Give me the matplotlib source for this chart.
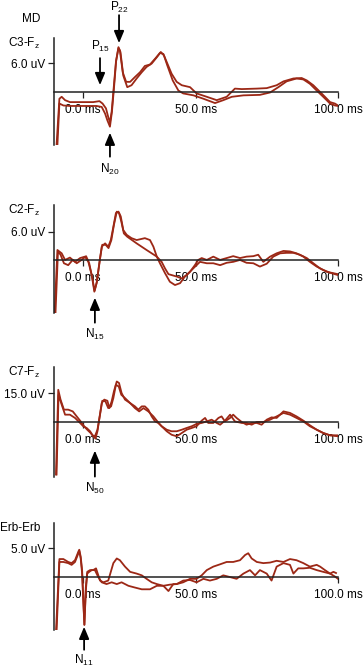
import numpy as np
import matplotlib.pyplot as plt
from matplotlib.transforms import ScaledTranslation

plt.rcParams['font.family'] = ['Liberation Sans', 'DejaVu Sans']
plt.rcParams['mathtext.fontset'] = 'custom'
plt.rcParams['mathtext.rm'] = 'Liberation Sans'
plt.rcParams['mathtext.it'] = 'Liberation Sans:italic'

# ---- data: time (ms) and amplitude (uV), two averaged runs per channel ----
c3_t1 = [0.9, 1.9, 2.7, 3.9, 5.6, 10.3, 13.8, 16.0, 17.1, 18.3, 19.1, 19.7, 20.3, 21.1, 21.8, 22.7, 23.2,
         24.2, 25.4, 26.8, 28.5, 30.3, 32.0, 33.8, 35.6, 37.3, 38.5, 39.7, 41.4, 43.2, 45.0, 47.9, 50.2,
         53.8, 57.3, 60.8, 63.7, 66.1, 71.4, 74.9, 78.4, 80.8, 84.3, 87.2, 89.0, 91.3, 93.7, 95.4, 97.2,
         98.9, 100.0]
c3_v1 = [-11.0, -1.4, -1.0, -1.7, -2.1, -2.1, -2.1, -1.9, -2.4, -3.4, -5.2, -6.3, -4.1, 1.4, 6.2, 9.1, 8.6,
         4.1, 2.1, 2.1, 3.1, 4.1, 5.4, 5.7, 6.9, 8.1, 7.9, 6.2, 3.8, 2.1, 1.4, 1.0, -0.3,
         -1.0, -1.7, -1.0, 0.7, 0.6, 0.7, 0.8, 1.4, 2.2, 2.8, 2.9, 2.4, 1.4, 0.0, -1.0, -2.1,
         -2.4, -2.8]
c3_t2 = [1.2, 1.9, 3.3, 5.6, 10.3, 15.0, 16.8, 18.0, 18.8, 19.7, 20.4, 21.2, 21.9, 22.7, 23.4, 24.4, 25.8,
         27.3, 29.1, 30.9, 32.6, 34.4, 36.2, 37.6, 38.7, 39.9, 41.8, 43.8, 45.5, 49.1, 52.6, 56.7, 59.6,
         62.6, 66.7, 72.5, 76.1, 79.0, 81.9, 85.4, 87.8, 90.1, 92.5, 94.8, 97.2, 98.9, 100.0]
c3_v2 = [-11.0, -2.4, -2.8, -2.9, -2.9, -2.9, -3.1, -4.5, -5.9, -7.2, -4.1, 1.4, 6.6, 9.3, 8.3, 3.4, 1.0,
         1.4, 2.8, 4.1, 5.2, 5.9, 7.2, 8.3, 7.6, 5.5, 2.4, 0.3, -0.3, -0.7, -1.4, -2.3, -1.7,
         -1.0, -0.7, -0.6, -0.1, 1.0, 2.2, 2.8, 2.6, 1.7, 0.3, -1.0, -2.4, -2.8, -2.9]

c2_t1 = [0.2, 1.2, 2.7, 3.9, 5.6, 7.4, 9.2, 10.9, 12.1, 13.3, 14.2, 15.0, 16.0, 16.8, 18.0, 19.1, 20.0,
         20.9, 21.8, 22.7, 23.5, 24.4, 25.6, 27.3, 29.1, 32.0, 33.8, 35.0, 36.2, 37.3, 39.1, 40.8, 42.6,
         44.4, 46.1, 47.9, 49.6, 50.8, 52.0, 53.8, 56.1, 58.5, 60.8, 63.1, 65.5, 67.8, 70.2, 71.9, 73.7,
         76.1, 78.4, 80.8, 83.1, 85.4, 87.8, 90.1, 92.5, 94.8, 97.2, 100.0]
c2_v1 = [-11.6, 2.1, 1.4, 0.0, 0.5, -0.4, 0.4, 0.7, -0.4, -3.2, -6.7, -4.9, -0.7, 2.8, 3.5, 2.8, 4.2,
         7.0, 9.9, 10.2, 9.2, 6.3, 5.3, 4.6, 4.2, 4.6, 4.2, 2.8, 0.7, -0.7, -2.8, -4.6, -5.3,
         -4.9, -3.5, -2.5, -1.1, 0.0, 0.4, 0.0, 0.7, 0.0, 0.4, 0.8, 0.4, 0.7, 0.8, 1.1, -0.4,
         0.7, 1.4, 1.9, 1.8, 1.4, 0.7, -0.4, -1.4, -2.1, -2.7, -3.2]
c2_t2 = [0.5, 1.4, 2.3, 3.5, 5.0, 6.6, 8.0, 9.7, 11.3, 12.4, 13.5, 14.3, 15.1, 16.1, 17.0, 18.2, 19.2,
         20.2, 21.1, 22.1, 22.9, 23.7, 24.6, 25.8, 29.1, 32.6, 34.4, 36.2, 37.9, 39.1, 40.3, 43.2, 45.0,
         46.7, 48.5, 50.2, 51.4, 53.8, 56.1, 58.5, 60.8, 63.1, 65.5, 67.8, 70.2, 72.5, 74.9, 77.2, 79.6,
         81.9, 84.3, 86.6, 89.0, 91.3, 93.7, 96.0, 98.4, 100.0]
c2_v2 = [-11.6, 1.8, 1.1, -0.7, -1.1, 0.0, -0.7, 0.0, 0.8, -0.7, -3.9, -6.5, -4.6, 0.0, 3.2, 3.2, 2.5,
         4.2, 7.4, 10.2, 9.9, 8.1, 5.6, 4.9, 3.5, 2.1, 1.4, 0.7, -0.4, -1.8, -3.0, -3.5, -3.9,
         -3.2, -2.1, -1.1, -0.4, -0.7, -0.7, -1.1, -0.6, -0.4, 0.0, -0.6, -0.7, -1.4, -0.8, 0.7, 1.4,
         1.5, 1.5, 1.1, 0.4, -0.7, -1.8, -2.5, -2.8, -3.0]

c7_t1 = [0.7, 1.5, 2.3, 3.5, 5.0, 6.6, 8.0, 9.4, 10.6, 11.7, 12.9, 13.8, 14.6, 15.3, 16.0, 16.8, 17.7,
         18.8, 19.5, 20.3, 21.1, 22.1, 22.9, 23.8, 25.0, 26.8, 28.5, 29.7, 30.9, 32.0, 33.2, 34.4, 35.6,
         36.7, 37.9, 39.7, 41.4, 43.2, 45.0, 46.7, 48.5, 50.2, 52.0, 53.2, 54.3, 56.1, 57.9, 59.0, 60.2,
         62.0, 63.1, 64.3, 66.1, 67.8, 69.6, 71.4, 73.1, 74.9, 76.6, 78.4, 80.8, 83.1, 85.4, 87.8, 90.1,
         92.5, 94.8, 97.2, 100.0]
c7_v1 = [-27.2, 16.7, 11.6, 6.4, 6.4, 5.5, 2.9, 0.3, -2.2, -4.0, -5.7, -7.4, -8.6, -4.8, 2.1, 9.8, 11.6,
         11.0, 7.2, 10.7, 15.9, 21.0, 20.2, 15.0, 11.6, 9.8, 8.1, 6.4, 8.1, 8.1, 6.4, 2.9, 0.3,
         -0.5, -2.2, -4.8, -6.6, -7.4, -5.7, -4.0, -3.1, -2.2, 0.7, 2.1, -0.5, -0.5, 2.1, 2.9, 0.3,
         2.1, 3.8, 2.1, 0.0, -1.4, -0.5, -0.5, -1.4, 1.2, 2.4, 2.1, 5.5, 4.7, 2.9, 0.7, -1.7,
         -4.0, -5.7, -6.9, -6.9]
c7_t2 = [0.9, 1.6, 2.7, 3.9, 5.6, 7.4, 9.2, 10.3, 11.5, 12.7, 13.6, 14.4, 15.3, 16.2, 17.0, 18.1, 19.1,
         20.1, 20.9, 21.8, 22.8, 23.7, 25.0, 26.8, 28.5, 30.0, 31.5, 33.2, 35.0, 36.4, 37.9, 39.7, 41.4,
         43.2, 45.0, 46.7, 48.5, 50.2, 52.0, 53.8, 55.5, 57.3, 58.5, 60.2, 62.0, 63.7, 66.1, 67.8, 69.6,
         71.4, 73.7, 76.1, 78.4, 80.8, 83.1, 85.4, 87.8, 90.1, 92.5, 94.8, 97.2, 100.0]
c7_v2 = [-27.2, 14.1, 9.0, 3.8, 3.8, 2.1, -0.5, -2.2, -3.1, -4.8, -6.9, -7.4, -4.0, 3.8, 11.0, 10.7, 7.2,
         8.1, 12.4, 19.3, 18.4, 14.1, 12.4, 9.8, 7.2, 5.5, 7.2, 5.5, 2.9, 0.3, -2.2, -4.0, -4.8,
         -4.8, -4.0, -3.1, -2.2, -1.0, -0.5, 0.3, 1.2, -0.5, -1.4, 0.7, 3.8, 0.3, -0.5, -0.5, -1.4,
         0.0, 0.0, 1.2, 2.9, 4.7, 3.8, 2.1, 0.3, -2.2, -4.0, -5.7, -6.9, -7.4]

erb_t1 = [0.7, 1.9, 3.3, 5.0, 6.2, 7.4, 8.6, 8.9, 9.4, 9.9, 10.3, 10.7, 11.2, 11.7, 12.7, 13.8, 14.8,
          15.6, 16.2, 17.4, 19.1, 20.9, 22.1, 23.2, 25.0, 26.8, 29.1, 30.9, 32.6, 34.4, 36.2, 38.5, 40.8,
          43.2, 45.5, 47.9, 50.2, 52.0, 53.8, 56.1, 58.5, 60.8, 63.1, 65.5, 67.3, 68.4, 69.6, 71.4, 73.7,
          76.1, 78.4, 80.8, 83.1, 85.4, 87.8, 90.1, 92.5, 93.7, 95.4, 97.2, 98.4, 99.3]
erb_v1 = [-9.4, 3.1, 3.1, 2.6, 2.4, 2.9, 4.4, 4.7, 3.5, 1.2, -3.5, -8.2, -1.8, 0.9, 1.2, 1.2, 1.5,
          0.3, -0.6, -0.9, -0.6, 2.4, 3.2, 2.9, 1.8, 0.9, 0.6, 0.3, -0.3, -0.9, -1.2, -1.5, -1.3,
          -1.2, -0.9, -0.3, -0.3, 0.3, 1.2, 1.8, 2.2, 2.6, 2.6, 2.9, 3.8, 4.1, 3.2, 2.6, 2.4,
          2.5, 2.8, 2.6, 3.1, 2.9, 2.4, 1.8, 2.1, 1.8, 1.2, 0.6, 0.9, 0.7]
erb_t2 = [0.9, 1.9, 3.3, 5.0, 6.2, 7.4, 8.6, 8.9, 9.4, 9.9, 10.3, 10.7, 11.2, 11.7, 12.4, 13.3, 14.4,
          15.6, 16.8, 18.5, 20.3, 22.1, 23.8, 26.2, 28.5, 30.9, 33.8, 36.2, 38.5, 40.3, 42.0, 43.2, 45.5,
          47.9, 50.2, 52.6, 54.9, 57.3, 59.6, 62.0, 64.3, 66.7, 69.0, 70.8, 72.5, 74.9, 76.6, 78.4, 80.8,
          83.1, 84.3, 86.0, 87.8, 90.1, 92.5, 94.8, 97.2, 98.9, 100.0]
erb_v2 = [-9.4, 2.6, 2.6, 2.4, 2.1, 2.6, 4.1, 4.5, 3.2, 0.6, -4.1, -8.2, -2.4, 0.6, 0.9, 1.2, 1.2,
          0.0, -0.9, -1.2, -0.9, -1.2, -0.9, -1.5, -1.8, -2.1, -2.1, -1.5, -1.5, -2.4, -1.2, -1.2, -0.6,
          -0.5, -0.9, -0.3, -0.6, -0.3, 0.3, 0.0, -0.3, 0.6, 1.2, 0.3, 1.2, 0.6, -0.6, 1.8, 2.4,
          2.1, 0.6, 1.5, 1.5, 1.6, 1.2, 0.9, 0.6, 0.1, -0.3]

channels = ['C3-F$_\\mathrm{z}$', 'C2-F$_\\mathrm{z}$', 'C7-F$_\\mathrm{z}$', 'Erb-Erb']
traces = [[(c3_t1, c3_v1), (c3_t2, c3_v2)],
          [(c2_t1, c2_v1), (c2_t2, c2_v2)],
          [(c7_t1, c7_v1), (c7_t2, c7_v2)],
          [(erb_t1, erb_v1), (erb_t2, erb_v2)]]
scale_uv = [6.0, 6.0, 15.0, 5.0]
xtick_pos = [10.2, 50.0, 100.0]
xtick_labels = ['0.0 ms', '50.0 ms', '100.0 ms']

# peaks: (panel, label, latency ms, polarity)
peaks = [(0, 'P$_{22}$', 22.9, 1), (0, 'P$_{15}$', 16.2, 1), (0, 'N$_{20}$', 19.7, -1),
         (1, 'N$_{15}$', 14.4, -1), (2, 'N$_{50}$', 14.4, -1), (3, 'N$_{11}$', 10.6, -1)]
# arrow styling in pixels: gap to trace, arrow length, label gap
arrow_px = [(4, 28, 0), (16, 27, 4), (6, 24, 5), (6, 25, 4), (12, 26, 4), (2, 23, 3)]

W, H = 363, 669
fig = plt.figure(figsize=(W / 100, H / 100), dpi=100)

tops = [38, 205, 367, 523]
bottoms = [145, 313, 477, 630]
ylims = [(-11.0, 11.2), (-11.2, 11.6), (-28.5, 28.5), (-9.1, 9.3)]
x0, x1 = 54, 338
red = '#9c2816'
fs = 8.5

axes = []
for i in range(4):
    ax = fig.add_axes([x0 / W, 1 - bottoms[i] / H, (x1 - x0) / W, (bottoms[i] - tops[i]) / H])
    ax.patch.set_alpha(0)
    for t, v in traces[i]:
        ax.plot(t, v, color=red, lw=1.3, solid_joinstyle='round')
    ax.set_xlim(0, 100)
    ax.set_ylim(*ylims[i])
    ax.spines['top'].set_visible(False)
    ax.spines['right'].set_visible(False)
    ax.spines['bottom'].set_position(('data', 0))
    for s in ('left', 'bottom'):
        ax.spines[s].set_linewidth(1.1)
        ax.spines[s].set_color('#222222')
    ax.set_xticks(xtick_pos)
    ax.set_xticklabels(xtick_labels)
    ax.set_yticks([scale_uv[i]])
    ax.set_yticklabels([f'{scale_uv[i]:.1f} uV'])
    ax.tick_params(axis='x', direction='out', length=4.3, width=0.9, pad=4.5, labelsize=fs, color='#222222')
    ax.tick_params(axis='y', direction='out', length=4.3, width=0.9, pad=2, labelsize=fs, color='#222222')
    fig.text(40 / W, 1 - (tops[i] + 5) / H, channels[i], ha='right', va='center', fontsize=fs)
    axes.append(ax)

fig.text(40 / W, 1 - 19 / H, 'MD', ha='right', va='center', fontsize=fs)

for (p, label, lat, pol), (gap, length, lgap) in zip(peaks, arrow_px):
    ax = axes[p]
    pts_t = np.concatenate([np.asarray(t) for t, v in traces[p]])
    pts_v = np.concatenate([np.asarray(v) for t, v in traces[p]])
    near = np.abs(pts_t - lat) < 1.0
    ext = pts_v[near].max() if pol > 0 else pts_v[near].min()
    tr = ax.transData + ScaledTranslation(0, pol * gap / 100, fig.dpi_scale_trans)
    ax.annotate('', xy=(lat, ext), xycoords=tr, xytext=(0, pol * length), textcoords='offset pixels',
                arrowprops=dict(arrowstyle='-|>,head_length=0.6,head_width=0.25', mutation_scale=12,
                                color='black', lw=1.3, shrinkA=0, shrinkB=0),
                annotation_clip=False)
    ax.annotate(label, xy=(lat, ext), xycoords=tr, xytext=(0, pol * (length + lgap)),
                textcoords='offset pixels', ha='center', va='bottom' if pol > 0 else 'top',
                fontsize=fs, annotation_clip=False)

fig.savefig('out.png', dpi=100)
